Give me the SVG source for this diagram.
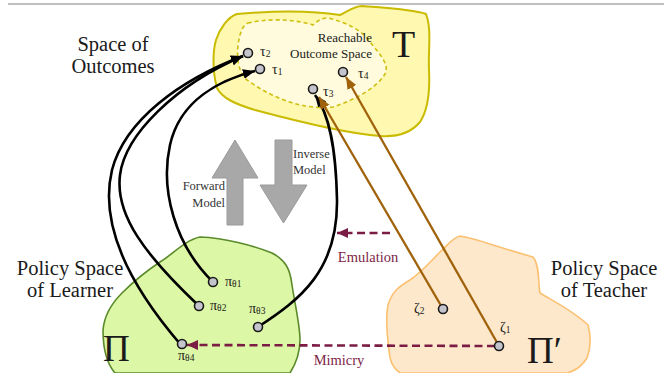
<svg xmlns="http://www.w3.org/2000/svg" width="664" height="373" viewBox="0 0 664 373">
<style>
.lbl{font-family:"Liberation Serif","Times New Roman",serif;fill:#1a1a1a}
.big{font-size:20.5px}
.sm{font-size:12.5px;fill:#333}
.sym{font-size:14px}
.mar{font-family:"Liberation Serif","Times New Roman",serif;font-size:14.5px;fill:#7d1f48}
.pt{fill:#c4c4cc;stroke:#1a1a1a;stroke-width:1.6}
.blk{fill:none;stroke:#000;stroke-width:2.6}
.brn{fill:none;stroke:#a0620a;stroke-width:2.3}
.dsh{fill:none;stroke:#7a1c44;stroke-width:2.6;stroke-dasharray:8 4.5}
</style>
<defs>
<marker id="ab" markerUnits="userSpaceOnUse" markerWidth="14" markerHeight="12" refX="12" refY="5" orient="auto"><path d="M0,0 L12,5 L0,10 Z" fill="#000"/></marker>
<marker id="ao" markerUnits="userSpaceOnUse" markerWidth="14" markerHeight="12" refX="12" refY="5" orient="auto"><path d="M0,0 L12,5 L0,10 Z" fill="#a0620a"/></marker>
<marker id="am" markerUnits="userSpaceOnUse" markerWidth="14" markerHeight="12" refX="11" refY="5" orient="auto"><path d="M0,0 L11,5 L0,10 Z" fill="#7a1c44"/></marker>
</defs>
<line x1="8" y1="4" x2="664" y2="4" stroke="#aaaaaa" stroke-width="1.5"/>
<g id="outcome-space">
<path d="M 237,14 C 270,11 310,10 340,15 C 348,11 355,6 362,6 C 385,8 410,9 426,14 C 432,30 428,50 429,70 C 430,90 428,110 420,122 C 410,134 395,137 380,136 C 350,134 300,122 255,110 C 235,104 222,98 217,88 C 212,70 213,50 216,40 C 220,28 228,17 237,14 Z" fill="#fff8b0" stroke="#c9bb00" stroke-width="2"/>
<path d="M 248,23 C 265,19 290,18 313,25 C 318,20 323,18 328,18 C 345,22 362,30 370,42 C 378,52 388,62 386,72 C 380,85 360,98 333,107 C 305,110 275,100 247,80 C 236,70 236,50 240,35 C 242,28 244,25 248,23 Z" fill="#fffbdc" stroke="#cdbf10" stroke-width="1.6" stroke-dasharray="4 3"/>
<text class="lbl" x="392" y="57" font-size="38">T</text>
<text class="lbl" x="372" y="42" font-size="13" text-anchor="end">Reachable</text>
<text class="lbl" x="372" y="58" font-size="13" text-anchor="end">Outcome Space</text>
</g>
<g id="learner-space">
<path d="M 200,237 C 225,238 255,246 272,253 C 285,260 290,268 292,285 C 295,305 300,325 300,340 C 300,355 295,365 290,373 L 115,373 C 108,365 103,350 103,330 C 104,318 110,305 122,293 C 133,282 148,270 160,262 C 172,255 185,240 200,237 Z" fill="#dcf7a6" stroke="#5a8a2a" stroke-width="1.6"/>
<text class="lbl" x="103" y="361" font-size="37">Π</text>
</g>
<g id="teacher-space">
<path d="M 460,236 C 475,238 500,248 533,257 C 540,265 538,285 540,293 C 555,302 575,312 588,325 C 592,340 590,350 587,358 C 582,366 575,371 567,373 L 400,373 C 393,368 390,362 389,350 C 387,335 386,315 388,305 C 392,292 398,287 410,280 C 422,272 430,262 440,252 C 448,245 452,238 460,236 Z" fill="#fde8cc" stroke="#fbc070" stroke-width="1.6"/>
<text class="lbl" x="527" y="363" font-size="37">Π′</text>
</g>
<g id="titles">
<text class="lbl big" x="113" y="51" text-anchor="middle">Space of</text>
<text class="lbl big" x="113" y="73" text-anchor="middle">Outcomes</text>
<text class="lbl big" x="70" y="275" text-anchor="middle">Policy Space</text>
<text class="lbl big" x="70" y="297" text-anchor="middle">of Learner</text>
<text class="lbl big" x="604" y="275" text-anchor="middle">Policy Space</text>
<text class="lbl big" x="604" y="297" text-anchor="middle">of Teacher</text>
</g>
<g id="models">
<path d="M 235,140 L 258,178 L 243,178 L 243,225 L 227,225 L 227,178 L 212,178 Z" fill="#a8a8a8" stroke="#9a9a9a" stroke-width="1"/>
<path d="M 275,140 L 292,140 L 292,185 L 307,185 L 283.5,223 L 260,185 L 275,185 Z" fill="#a8a8a8" stroke="#9a9a9a" stroke-width="1"/>
<text class="lbl sm" x="225" y="190" text-anchor="end">Forward</text>
<text class="lbl sm" x="225" y="207" text-anchor="end">Model</text>
<text class="lbl sm" x="293" y="158" text-anchor="start">Inverse</text>
<text class="lbl sm" x="293" y="174" text-anchor="start">Model</text>
</g>
<g id="connectors">
<path class="blk" d="M 213,282 C 175,245 160,190 170,145 C 180,100 220,80 255,71" marker-end="url(#ab)"/>
<path class="blk" d="M 199,306 C 145,255 115,215 120,175 C 125,135 175,85 243,56" marker-end="url(#ab)"/>
<path class="blk" d="M 181,345 C 125,280 100,220 112,170 C 125,120 180,80 243,56" marker-end="url(#ab)"/>
<path class="blk" d="M 258,327 C 300,300 338,270 337,200 C 336,150 330,115 315,95" marker-end="url(#ab)"/>
<path class="brn" d="M 443,309 L 319,97" marker-end="url(#ao)"/>
<path class="brn" d="M 499,346 L 346,77" marker-end="url(#ao)"/>
<path class="dsh" d="M 390,233 L 337,233" marker-end="url(#am)"/>
<path class="dsh" d="M 495,346 L 187,345" marker-end="url(#am)"/>
<text class="mar" x="368" y="262" text-anchor="middle">Emulation</text>
<text class="mar" x="339" y="365" text-anchor="middle">Mimicry</text>
</g>
<g id="tau2"><circle class="pt" cx="248" cy="53" r="4.5"/><text class="lbl sym" x="260" y="56">τ<tspan font-size="9.5" dy="1">2</tspan></text></g>
<g id="tau1"><circle class="pt" cx="260" cy="69" r="4.5"/><text class="lbl sym" x="272" y="74">τ<tspan font-size="9.5" dy="1">1</tspan></text></g>
<g id="tau4"><circle class="pt" cx="343" cy="72" r="4.5"/><text class="lbl sym" x="358" y="78">τ<tspan font-size="9.5" dy="1">4</tspan></text></g>
<g id="tau3"><circle class="pt" cx="313" cy="89" r="4.5"/><text class="lbl sym" x="323" y="96">τ<tspan font-size="9.5" dy="1">3</tspan></text></g>
<g id="pi1"><circle class="pt" cx="213" cy="282" r="4.5"/><text class="lbl sym" x="225" y="286">π<tspan font-size="9.5" dy="1">θ1</tspan></text></g>
<g id="pi2"><circle class="pt" cx="199" cy="306" r="4.5"/><text class="lbl sym" x="210" y="310">π<tspan font-size="9.5" dy="1">θ2</tspan></text></g>
<g id="pi3"><circle class="pt" cx="258" cy="327" r="4.5"/><text class="lbl sym" x="249" y="313">π<tspan font-size="9.5" dy="1">θ3</tspan></text></g>
<g id="pi4"><circle class="pt" cx="182" cy="344" r="4.5"/><text class="lbl sym" x="178" y="360">π<tspan font-size="9.5" dy="1">θ4</tspan></text></g>
<g id="zeta2"><circle class="pt" cx="443" cy="309" r="4.5"/><text class="lbl sym" x="414" y="313">ζ<tspan font-size="9.5" dy="1">2</tspan></text></g>
<g id="zeta1"><circle class="pt" cx="499" cy="346" r="4.5"/><text class="lbl sym" x="500" y="332">ζ<tspan font-size="9.5" dy="1">1</tspan></text></g>
</svg>
